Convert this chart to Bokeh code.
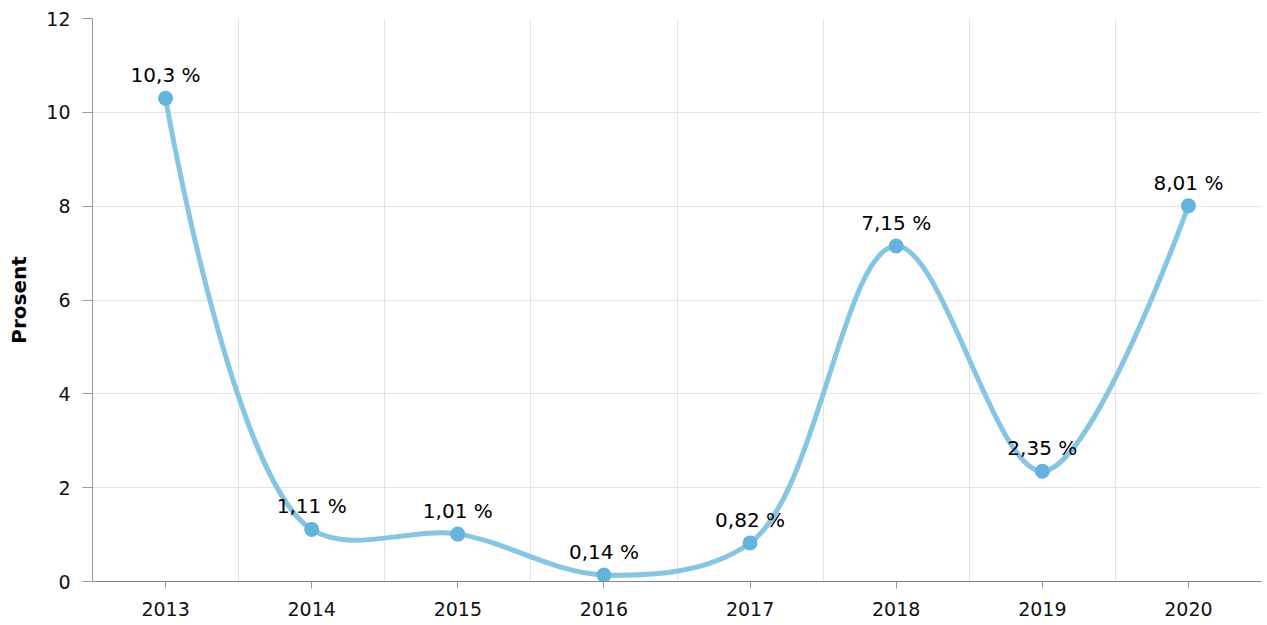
import math
from bokeh.plotting import figure
from bokeh.models import Range1d, FixedTicker, ColumnDataSource
from bokeh.core.properties import value
from bokeh.embed import file_html
from bokeh.resources import INLINE

years = ["2013", "2014", "2015", "2016", "2017", "2018", "2019", "2020"]
values = [10.3, 1.11, 1.01, 0.14, 0.82, 7.15, 2.35, 8.01]
y_ticks = [0, 2, 4, 6, 8, 10, 12]
y_title = "Prosent"

FONT = "DejaVu Sans"
LINE_COLOR = "#86c5e4"
MARK_COLOR = "#64b3dc"

W, H = 1267, 625
BL, BR, BT, BB = 92, 6, 18, 44
X0, X1 = -0.5, len(years) - 0.5
Y0, Y1 = 0, 12

xs = list(range(len(values)))
ys = values

# screen-space scale factors of the (linear) axes, used only for the
# Catmull-Rom smoothing of the line
sx = (W - BL - BR) / (X1 - X0)
sy = (H - BT - BB) / (Y1 - Y0)


def catmull_rom(xs, ys, alpha=0.6):
    P = [(x * sx, y * sy) for x, y in zip(xs, ys)]
    n = len(P)
    segs = {k: [] for k in ("x0", "y0", "x1", "y1", "cx0", "cy0", "cx1", "cy1")}
    eps = 1e-12
    for i in range(n - 1):
        p1, p2 = P[i], P[i + 1]
        p0 = P[i - 1] if i > 0 else p1
        p3 = P[i + 2] if i + 2 < n else p2
        d01 = math.dist(p0, p1)
        d12 = math.dist(p1, p2)
        d23 = math.dist(p2, p3)
        l01a, l01_2a = d01 ** alpha, d01 ** (2 * alpha)
        l12a, l12_2a = d12 ** alpha, d12 ** (2 * alpha)
        l23a, l23_2a = d23 ** alpha, d23 ** (2 * alpha)
        c1 = list(p1)
        if l01a > eps:
            a = 2 * l01_2a + 3 * l01a * l12a + l12_2a
            m = 3 * l01a * (l01a + l12a)
            c1 = [(p1[k] * a - p0[k] * l12_2a + p2[k] * l01_2a) / m for k in (0, 1)]
        c2 = list(p2)
        if l23a > eps:
            b = 2 * l23_2a + 3 * l23a * l12a + l12_2a
            m = 3 * l23a * (l23a + l12a)
            c2 = [(p2[k] * b + p1[k] * l23_2a - p3[k] * l12_2a) / m for k in (0, 1)]
        segs["x0"].append(p1[0] / sx); segs["y0"].append(p1[1] / sy)
        segs["x1"].append(p2[0] / sx); segs["y1"].append(p2[1] / sy)
        segs["cx0"].append(c1[0] / sx); segs["cy0"].append(c1[1] / sy)
        segs["cx1"].append(c2[0] / sx); segs["cy1"].append(c2[1] / sy)
    return segs


seg = catmull_rom(xs, ys)

p = figure(
    width=W, height=H,
    x_range=Range1d(X0, X1),
    y_range=Range1d(Y0, Y1),
    output_backend="svg", toolbar_location=None,
    min_border_left=BL, min_border_right=BR,
    min_border_top=BT, min_border_bottom=BB,
)
p.outline_line_color = None
p.background_fill_color = "white"
p.border_fill_color = "white"

# grids
p.xgrid.ticker = FixedTicker(ticks=[i + 0.5 for i in range(len(years) - 1)])
p.xgrid.grid_line_color = "#e3e3e3"
p.xgrid.grid_line_width = 1
p.ygrid.ticker = FixedTicker(ticks=y_ticks)
p.ygrid.grid_line_color = "#e3e3e3"
p.ygrid.grid_line_width = 1

# x axis
p.xaxis.ticker = FixedTicker(ticks=xs)
p.xaxis.major_label_overrides = {i: y for i, y in enumerate(years)}
p.xaxis.minor_tick_line_color = None
p.xaxis.major_tick_out = 7
p.xaxis.major_tick_in = 0
p.xaxis.major_tick_line_color = "#999999"
p.xaxis.axis_line_color = "#888888"
p.xaxis.major_label_standoff = 13
p.xaxis.major_label_text_font = FONT
p.xaxis.major_label_text_font_size = "19px"
p.xaxis.major_label_text_color = "#111111"

# y axis
p.yaxis.ticker = FixedTicker(ticks=y_ticks)
p.yaxis.minor_tick_line_color = None
p.yaxis.major_tick_out = 10
p.yaxis.major_tick_in = 0
p.yaxis.major_tick_line_color = "#999999"
p.yaxis.axis_line_color = "#999999"
p.yaxis.major_label_standoff = 12
p.yaxis.major_label_text_font = FONT
p.yaxis.major_label_text_font_size = "19px"
p.yaxis.major_label_text_color = "#111111"
p.yaxis.axis_label = y_title
p.yaxis.axis_label_text_font = FONT
p.yaxis.axis_label_text_font_style = "bold"
p.yaxis.axis_label_text_font_size = "20px"
p.yaxis.axis_label_text_color = "#000000"
p.yaxis.axis_label_standoff = 12

p.bezier(x0="x0", y0="y0", x1="x1", y1="y1", cx0="cx0", cy0="cy0",
         cx1="cx1", cy1="cy1", source=ColumnDataSource(seg),
         line_color=LINE_COLOR, line_width=5, line_cap="round")

labels = [f"{v:g}".replace(".", ",") + " %" for v in values]
src = ColumnDataSource(dict(x=xs, y=ys, label=labels))
p.scatter("x", "y", source=src, size=15, fill_color=MARK_COLOR,
          line_color=MARK_COLOR, line_width=0)
p.text("x", "y", text="label", source=src, y_offset=-23,
       text_align="center", text_baseline="alphabetic",
       text_font=value(FONT), text_font_size="20px", text_color="#000000")

open("out.html", "w").write(file_html(p, INLINE))
